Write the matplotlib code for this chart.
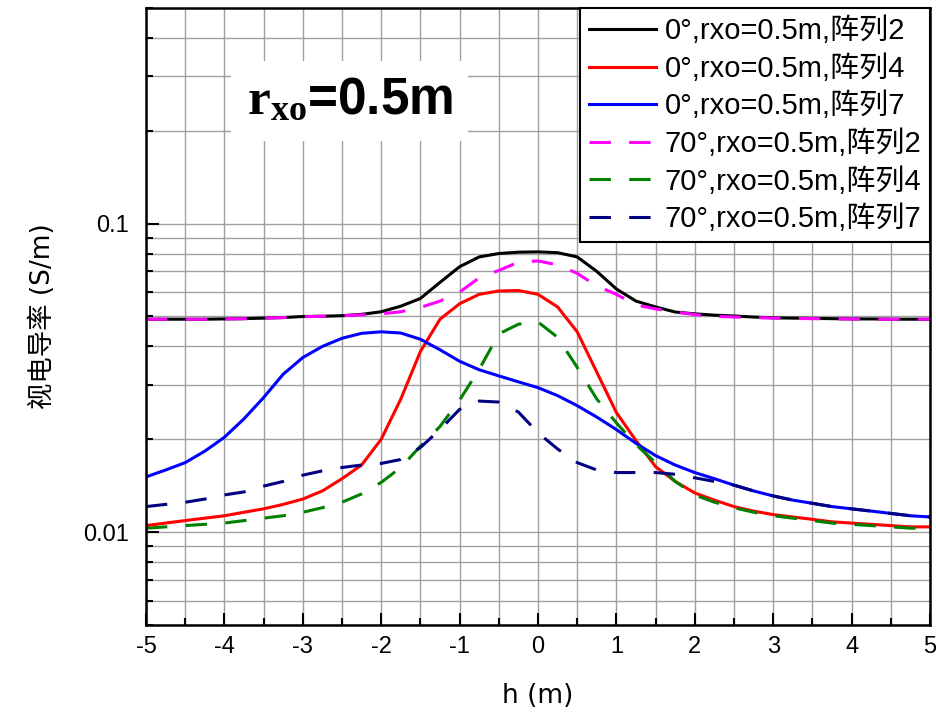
import matplotlib
matplotlib.use("Agg")
import matplotlib.pyplot as plt
from matplotlib.ticker import MultipleLocator, LogLocator, NullFormatter

plt.rcParams['mathtext.fontset'] = 'custom'
plt.rcParams['mathtext.bf'] = 'Liberation Serif:bold'
plt.rcParams['mathtext.rm'] = 'Liberation Serif'
plt.rcParams['axes.unicode_minus'] = False

h = [-5.0, -4.75, -4.5, -4.25, -4.0, -3.75, -3.5, -3.25, -3.0, -2.75, -2.5, -2.25, -2.0,
     -1.75, -1.5, -1.25, -1.0, -0.75, -0.5, -0.25, 0.0, 0.25, 0.5, 0.75, 1.0, 1.25, 1.5,
     1.75, 2.0, 2.25, 2.5, 2.75, 3.0, 3.25, 3.5, 3.75, 4.0, 4.25, 4.5, 4.75, 5.0]

a0_arr2 = [0.0490, 0.0490, 0.0490, 0.0490, 0.0491, 0.0492, 0.0494, 0.0496, 0.0500, 0.0501, 0.0503,
           0.0508, 0.0518, 0.0540, 0.0572, 0.0645, 0.0725, 0.0780, 0.0800, 0.0808, 0.0810, 0.0805,
           0.0780, 0.0700, 0.0614, 0.0561, 0.0537, 0.0517, 0.0510, 0.0505, 0.0502, 0.0498, 0.0495,
           0.0494, 0.0493, 0.0492, 0.0491, 0.0491, 0.0490, 0.0490, 0.0490]
a0_arr4 = [0.0105, 0.0107, 0.0109, 0.0111, 0.0113, 0.0116, 0.0119, 0.0123, 0.0128, 0.0136, 0.0149,
           0.0165, 0.0200, 0.0270, 0.0385, 0.0490, 0.0550, 0.0590, 0.0605, 0.0607, 0.0590, 0.0537,
           0.0446, 0.0330, 0.0244, 0.0198, 0.0163, 0.0146, 0.0134, 0.0127, 0.0121, 0.0117, 0.0114,
           0.0112, 0.0110, 0.0108, 0.0107, 0.0106, 0.0105, 0.0104, 0.0104]
a0_arr7 = [0.0151, 0.0159, 0.0168, 0.0183, 0.0203, 0.0233, 0.0273, 0.0325, 0.0368, 0.0400, 0.0425,
           0.0441, 0.0446, 0.0442, 0.0422, 0.0390, 0.0358, 0.0336, 0.0321, 0.0307, 0.0294, 0.0277,
           0.0257, 0.0236, 0.0215, 0.0194, 0.0177, 0.0165, 0.0156, 0.0149, 0.0142, 0.0136, 0.0131,
           0.0127, 0.0124, 0.0121, 0.0119, 0.0117, 0.0115, 0.0113, 0.0112]
a70_arr2 = [0.0490, 0.0490, 0.0490, 0.0490, 0.0491, 0.0492, 0.0494, 0.0496, 0.0499, 0.0501, 0.0503,
            0.0506, 0.0510, 0.0518, 0.0535, 0.0561, 0.0600, 0.0667, 0.0705, 0.0750, 0.0757, 0.0735,
            0.0690, 0.0628, 0.0590, 0.0545, 0.0529, 0.0517, 0.0507, 0.0501, 0.0498, 0.0496, 0.0494,
            0.0493, 0.0492, 0.0491, 0.0491, 0.0490, 0.0490, 0.0490, 0.0490]
a70_arr4 = [0.0103, 0.0104, 0.0105, 0.0106, 0.0107, 0.0109, 0.0111, 0.0113, 0.0116, 0.0120, 0.0125,
            0.0133, 0.0145, 0.0162, 0.0190, 0.0220, 0.0268, 0.0337, 0.0439, 0.0472, 0.0480, 0.0428,
            0.0342, 0.0270, 0.0226, 0.0192, 0.0168, 0.0146, 0.0132, 0.0125, 0.0120, 0.0116, 0.0113,
            0.0111, 0.0109, 0.0107, 0.0106, 0.0105, 0.0104, 0.0103, 0.0103]
a70_arr7 = [0.0121, 0.0123, 0.0125, 0.0128, 0.0132, 0.0135, 0.0141, 0.0146, 0.0153, 0.0158, 0.0162,
            0.0165, 0.0167, 0.0172, 0.0188, 0.0215, 0.0250, 0.0266, 0.0264, 0.0245, 0.0210, 0.0186,
            0.0168, 0.0159, 0.0156, 0.0156, 0.0156, 0.0154, 0.0150, 0.0146, 0.0142, 0.0136, 0.0131,
            0.0127, 0.0124, 0.0121, 0.0119, 0.0117, 0.0115, 0.0113, 0.0112]

labels = ['0°,rxo=0.5m,阵列2', '0°,rxo=0.5m,阵列4', '0°,rxo=0.5m,阵列7',
          '70°,rxo=0.5m,阵列2', '70°,rxo=0.5m,阵列4', '70°,rxo=0.5m,阵列7']
series = [a0_arr2, a0_arr4, a0_arr7, a70_arr2, a70_arr4, a70_arr7]
colors = ['#000000', '#ff0000', '#0000ff', '#ff00ff', '#008000', '#000080']
styles = ['solid', 'solid', 'solid', 'dashed', 'dashed', 'dashed']

fig = plt.figure(figsize=(9.37, 7.21), dpi=100)
ax = fig.add_axes([146/937, 1-625/721, (930-146)/937, (625-8)/721])

for y, lab, c, s in zip(series, labels, colors, styles):
    if s == 'dashed':
        ax.plot(h, y, color=c, lw=2.2, dashes=(7, 6), label=lab)
    else:
        ax.plot(h, y, color=c, lw=2.2, label=lab)

ax.set_yscale('log')
ax.set_xlim(-5, 5)
ax.set_ylim(0.005, 0.5)
ax.xaxis.set_major_locator(MultipleLocator(1))
ax.xaxis.set_minor_locator(MultipleLocator(0.5))
ax.set_yticks([0.01, 0.1])
ax.set_yticklabels(['0.01', '0.1'])
ax.yaxis.set_minor_locator(LogLocator(base=10, subs=[2, 3, 4, 5, 6, 7, 8, 9]))
ax.yaxis.set_minor_formatter(NullFormatter())

ax.grid(True, which='both', color='#a0a0a0', lw=1.0)
ax.tick_params(which='major', direction='in', length=9, width=1.5, labelsize=17, pad=8)
ax.tick_params(axis='y', which='major', pad=12)
ax.tick_params(which='minor', direction='in', length=5, width=1.5)
for lbl in ax.get_xticklabels() + ax.get_yticklabels():
    lbl.set_fontfamily('Liberation Sans')
for sp in ax.spines.values():
    sp.set_linewidth(1.8)

ax.set_xlabel('h (m)', fontsize=19, family=['DejaVu Sans', 'Noto Sans CJK SC'], labelpad=18)
ax.set_ylabel('视电导率 (S/m)', fontsize=19, family=['DejaVu Sans', 'Noto Sans CJK SC'], labelpad=20)

leg = ax.legend(loc='upper right', borderaxespad=0, fancybox=False, framealpha=1,
                edgecolor='black', prop={'family': ['Liberation Sans', 'Noto Sans CJK SC'], 'size': 21},
                handlelength=2.3, handletextpad=0.3, labelspacing=0.31, borderpad=0.3)
leg.get_frame().set_linewidth(1.5)

ax.text(-2.4, 0.25, r'$\mathbf{r_{xo}}$=0.5m', fontsize=37, fontweight='bold',
        family='Liberation Sans', ha='center', va='center', zorder=6,
        bbox=dict(boxstyle='square,pad=0.3', facecolor='white', edgecolor='none'))

fig.savefig('out.png', dpi=100)
